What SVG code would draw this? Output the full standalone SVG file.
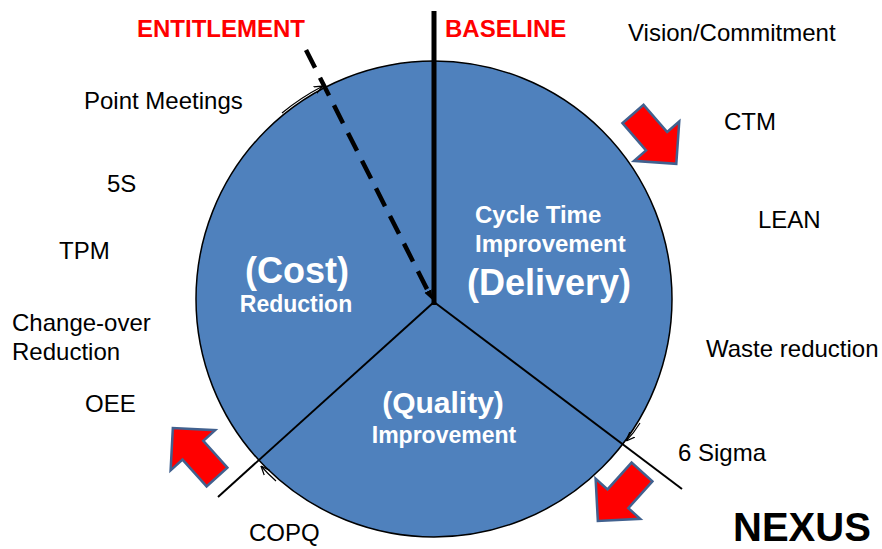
<svg xmlns="http://www.w3.org/2000/svg" width="882" height="549" viewBox="0 0 882 549">
  <style>
    .lbl { font-family: "Liberation Sans", Arial, sans-serif; font-size: 24px; fill: #000; }
    .red { font-family: "Liberation Sans", Arial, sans-serif; font-size: 24px; font-weight: bold; fill: #ff0000; }
    .in  { font-family: "Liberation Sans", Arial, sans-serif; font-weight: bold; fill: #ffffff; text-anchor: middle; }
    .inl { font-family: "Liberation Sans", Arial, sans-serif; font-weight: bold; fill: #ffffff; font-size: 24px; }
    .blk { fill: #ff0000; stroke: #41618f; stroke-width: 2.5; stroke-linejoin: miter; }
    .thin { fill: none; stroke: #000; stroke-width: 1.2; }
  </style>
  <defs>
    <marker id="vtip" viewBox="0 0 10 10" refX="10" refY="5" markerWidth="9" markerHeight="9" orient="auto" markerUnits="userSpaceOnUse">
      <path d="M0,1 L10,5 L0,9" fill="none" stroke="#000" stroke-width="1.4"/>
    </marker>
    <marker id="ftip" viewBox="0 0 10 10" refX="9" refY="5" markerWidth="10" markerHeight="10" orient="auto" markerUnits="userSpaceOnUse">
      <path d="M0,1 L10,5 L0,9 Z" fill="#000"/>
    </marker>
    <polygon id="blockArrow" points="0,-14 36,-14 36,-30 66,0 36,30 36,14 0,14"/>
  </defs>

  <!-- main disc -->
  <g id="disc">
    <circle cx="434" cy="299" r="238" fill="#4f81bd" stroke="#000" stroke-width="1.5"/>
  </g>

  <!-- connectors: baseline, entitlement, sector spokes, edge arrows -->
  <g id="connectors">
    <line x1="434" y1="11" x2="434" y2="305" stroke="#000" stroke-width="5"/>
    <line x1="306" y1="50" x2="432" y2="299" stroke="#000" stroke-width="4.5" stroke-dasharray="20 11" marker-end="url(#ftip)"/>
    <line x1="434" y1="302" x2="218" y2="497" stroke="#000" stroke-width="2"/>
    <line x1="434" y1="302" x2="682" y2="489" stroke="#000" stroke-width="2"/>
    <path class="thin" d="M282,113 Q300,98 323,86" marker-end="url(#vtip)"/>
    <path class="thin" d="M640,423 Q634,433 626,441" marker-end="url(#vtip)"/>
    <path class="thin" d="M276,481 Q268,474 261,466" marker-end="url(#vtip)"/>
  </g>

  <!-- red direction arrows -->
  <g id="arrow-top-right"><use href="#blockArrow" class="blk" transform="translate(633,114) rotate(49)"/></g>
  <g id="arrow-bottom-left"><use href="#blockArrow" class="blk" transform="translate(217,477) rotate(-132)"/></g>
  <g id="arrow-bottom-right"><use href="#blockArrow" class="blk" transform="translate(642,472) rotate(132)"/></g>

  <!-- sector labels -->
  <g id="sector-delivery">
    <text class="inl" x="475" y="223">Cycle Time</text>
    <text class="inl" x="475" y="252">Improvement</text>
    <text class="in" x="549" y="295" font-size="36">(Delivery)</text>
  </g>
  <g id="sector-cost">
    <text class="in" x="297" y="283" font-size="36">(Cost)</text>
    <text class="in" x="296" y="312" font-size="23">Reduction</text>
  </g>
  <g id="sector-quality">
    <text class="in" x="443" y="413" font-size="30">(Quality)</text>
    <text class="in" x="444" y="443" font-size="23">Improvement</text>
  </g>

  <!-- headings -->
  <g id="heading-entitlement"><text class="red" x="137" y="37">ENTITLEMENT</text></g>
  <g id="heading-baseline"><text class="red" x="445" y="37">BASELINE</text></g>

  <!-- surrounding labels -->
  <g id="label-vision"><text class="lbl" x="628" y="41">Vision/Commitment</text></g>
  <g id="label-point-meetings"><text class="lbl" x="84" y="109">Point Meetings</text></g>
  <g id="label-ctm"><text class="lbl" x="724" y="130">CTM</text></g>
  <g id="label-5s"><text class="lbl" x="107" y="192">5S</text></g>
  <g id="label-lean"><text class="lbl" x="758" y="228">LEAN</text></g>
  <g id="label-tpm"><text class="lbl" x="59" y="259">TPM</text></g>
  <g id="label-changeover">
    <text class="lbl" x="12" y="331">Change-over</text>
    <text class="lbl" x="12" y="360">Reduction</text>
  </g>
  <g id="label-waste"><text class="lbl" x="706" y="357">Waste reduction</text></g>
  <g id="label-oee"><text class="lbl" x="85" y="412">OEE</text></g>
  <g id="label-6sigma"><text class="lbl" x="678" y="461">6 Sigma</text></g>
  <g id="label-copq"><text class="lbl" x="249" y="541">COPQ</text></g>
  <g id="label-nexus"><text x="733" y="541" font-family="Liberation Sans, Arial, sans-serif" font-weight="bold" font-size="40" fill="#000">NEXUS</text></g>
</svg>
